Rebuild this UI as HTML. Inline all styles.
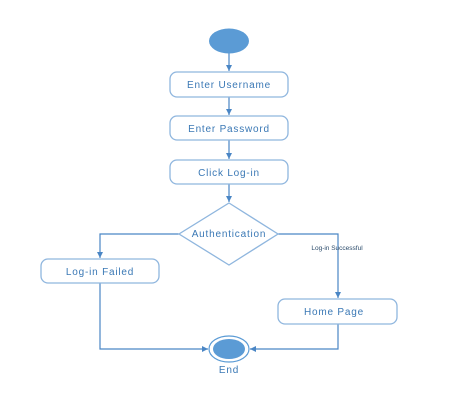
<!DOCTYPE html>
<html><head><meta charset="utf-8"><style>
html,body{margin:0;padding:0;background:#fff;}
svg{display:block;}
text{font-family:"Liberation Sans",sans-serif;fill:#3a78b5;}
</style></head><body>
<svg width="451" height="416" viewBox="0 0 451 416" xmlns="http://www.w3.org/2000/svg">
<defs><marker id="a" markerWidth="8" markerHeight="8" refX="6" refY="4" orient="auto" markerUnits="userSpaceOnUse"><path d="M0,1 L6,4 L0,7 z" fill="#4a86c5"/></marker></defs>
<g stroke="#4a86c5" stroke-width="1.2" fill="none">
<line x1="229" y1="53" x2="229" y2="71" marker-end="url(#a)"/>
<line x1="229" y1="97" x2="229" y2="115" marker-end="url(#a)"/>
<line x1="229" y1="140" x2="229" y2="159" marker-end="url(#a)"/>
<line x1="229" y1="184" x2="229" y2="202" marker-end="url(#a)"/>
<polyline points="179,234 100,234 100,258" marker-end="url(#a)"/>
<polyline points="278,234 338,234 338,298" marker-end="url(#a)"/>
<polyline points="100,283 100,349 208,349" marker-end="url(#a)"/>
<polyline points="338,324 338,349 250,349" marker-end="url(#a)"/>
</g>
<g stroke="#8fb6de" stroke-width="1.3" fill="#fff">
<rect x="170" y="72" width="118" height="25" rx="7"/>
<rect x="170" y="116" width="118" height="24" rx="7"/>
<rect x="170" y="160" width="118" height="24" rx="7"/>
<rect x="41" y="259" width="118" height="24" rx="7"/>
<rect x="278" y="299" width="119" height="25" rx="7"/>
<polygon points="229,203 278,234 229,265 179,234"/>
</g>
<ellipse cx="229" cy="41" rx="20" ry="12.5" fill="#5b9bd5"/>
<ellipse cx="229" cy="349" rx="20" ry="13" fill="#fff" stroke="#5b9bd5" stroke-width="1.2"/>
<ellipse cx="229" cy="349" rx="16" ry="10" fill="#5b9bd5"/>
<g font-size="10" text-anchor="middle" letter-spacing="0.8">
<text x="229" y="88">Enter Username</text>
<text x="229" y="132">Enter Password</text>
<text x="229" y="176">Click Log-in</text>
<text x="229" y="237">Authentication</text>
<text x="100" y="275">Log-in Failed</text>
<text x="334" y="315">Home Page</text>
<text x="229" y="373">End</text>
</g>
<text x="337" y="250" font-size="6.5" text-anchor="middle" style="fill:#2a4a6a">Log-in Successful</text>
</svg>
</body></html>
